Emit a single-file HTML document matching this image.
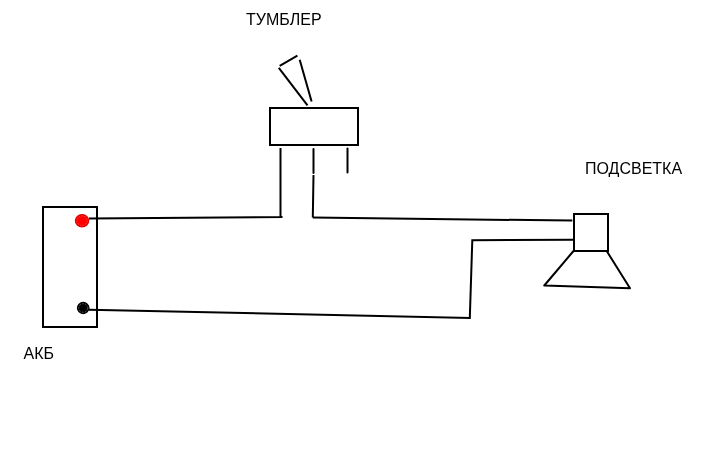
<!DOCTYPE html>
<html><head><meta charset="utf-8">
<style>
html,body{margin:0;padding:0;background:#fff;}
body{width:717px;height:464px;overflow:hidden;position:relative;}
svg{position:absolute;left:0;top:0;}
text{font-family:"Liberation Sans",sans-serif;font-size:16px;fill:#000;}
.t{will-change:transform;}
</style></head><body>
<svg width="717" height="464" viewBox="0 0 717 464" xmlns="http://www.w3.org/2000/svg">
<rect x="0" y="0" width="717" height="464" fill="#fff"/>
<g fill="none" stroke="#000" stroke-width="2">
<!-- toggle lever -->
<line x1="279.7" y1="65.8" x2="297.4" y2="55.6"/>
<line x1="278.8" y1="67.8" x2="307.5" y2="105.3"/>
<line x1="299.7" y1="59.7" x2="311.6" y2="101.4"/>
<!-- toggle body -->
<rect x="270" y="108" width="88" height="37"/>
<!-- legs -->
<line x1="280.5" y1="148" x2="280.5" y2="217"/>
<line x1="313.5" y1="149" x2="313.5" y2="173" stroke-linecap="round"/>
<path d="M313.5 175 L312.8 217.5"/>
<line x1="347.5" y1="148.5" x2="347.5" y2="172.5" stroke-linecap="round"/>
<!-- battery -->
<rect x="43" y="207" width="54" height="120"/>
<!-- wires -->
<path d="M89 218.6 L281.5 216.9 L281.5 216"/>
<path d="M312.8 217.6 L572.3 220.6"/>
<path d="M89 309.7 L469.8 318 L472.3 240.3 L573 239.8"/>
<!-- speaker -->
<rect x="574" y="214" width="34" height="37"/>
<path d="M573.5 251 L544.3 285.5 L630 288.2 L607 251.5" stroke-linejoin="round"/>
</g>
<ellipse cx="82.05" cy="220.7" rx="6.6" ry="6.1" fill="#ff0000" stroke="#d80000" stroke-width="1.3"/>
<ellipse cx="82.05" cy="220.7" rx="5.2" ry="4.8" fill="none" stroke="#ff5a5a" stroke-width="0.7" stroke-dasharray="1.6 1.2"/>
<ellipse cx="83.2" cy="308" rx="5.7" ry="5.5" fill="#000" stroke="#000" stroke-width="1.3"/>
<ellipse cx="83.2" cy="308" rx="4.5" ry="4.3" fill="none" stroke="#808080" stroke-width="0.7" stroke-dasharray="1.8 1.4"/>
<g class="t"><text x="246" y="25">ТУМБЛЕР</text>
<text x="585" y="173.9">ПОДСВЕТКА</text>
<text x="23.6" y="359.2">АКБ</text></g>
</svg>
</body></html>
